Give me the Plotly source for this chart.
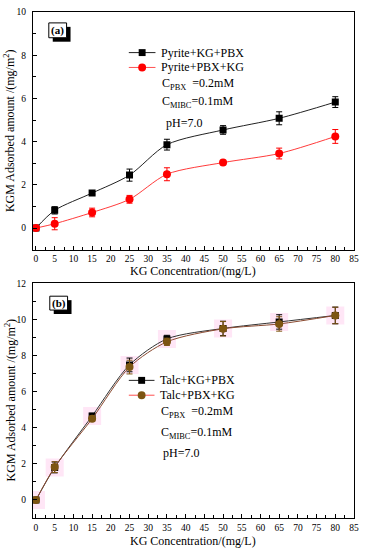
import plotly.graph_objects as go

# ---------------- data ----------------
kg_conc = [0, 5, 15, 25, 35, 50, 65, 80]

pyrite_kg_pbx = [0, 0.82, 1.62, 2.45, 3.86, 4.54, 5.08, 5.83]
pyrite_kg_pbx_err = [0.05, 0.17, 0.06, 0.28, 0.25, 0.2, 0.3, 0.25]
pyrite_pbx_kg = [0, 0.2, 0.72, 1.33, 2.49, 3.03, 3.45, 4.24]
pyrite_pbx_kg_err = [0.05, 0.28, 0.2, 0.18, 0.3, 0.1, 0.25, 0.32]

talc_kg_pbx = [0, 1.8, 4.65, 7.48, 8.92, 9.5, 9.86, 10.22]
talc_kg_pbx_err = [0.05, 0.3, 0.15, 0.38, 0.2, 0.4, 0.4, 0.46]
talc_pbx_kg = [0, 1.82, 4.5, 7.36, 8.76, 9.48, 9.75, 10.22]
talc_pbx_kg_err = [0.05, 0.3, 0.15, 0.38, 0.2, 0.4, 0.4, 0.46]

x_ticks = list(range(0, 90, 5))

# ---------------- layout helpers ----------------
W, H = 366, 550
ML, MR, MT, MB = 33, 8, 7, 32
PW, PH = W - ML - MR, H - MT - MB

def px(x):
    return (x - ML) / PW

def py(y):
    return (H - MB - y) / PH

FONT = "Liberation Serif"
BROWN = "#7d5512"

fig = go.Figure()

def add_series(x, y, err, color, line_color, symbol, size, xa, ya, halo=False):
    if halo:
        fig.add_trace(go.Scatter(
            x=x, y=y, mode="markers", xaxis=xa, yaxis=ya, showlegend=False,
            hoverinfo="skip",
            marker=dict(symbol="square", size=18, color="rgba(255,200,235,0.45)")))
    fig.add_trace(go.Scatter(
        x=x, y=y, mode="lines+markers", xaxis=xa, yaxis=ya, showlegend=False,
        line=dict(color=line_color, width=1, shape="spline", smoothing=0.8),
        marker=dict(symbol=symbol, size=size, color=color),
        error_y=dict(type="data", array=err, visible=True, color=color,
                     thickness=1, width=3)))

add_series(kg_conc, pyrite_kg_pbx, pyrite_kg_pbx_err, "#000000", "#222222",
           "square", 7, "x", "y")
add_series(kg_conc, pyrite_pbx_kg, pyrite_pbx_kg_err, "#ff0000", "#ff3b3b",
           "circle", 8, "x", "y")
add_series(kg_conc, talc_kg_pbx, talc_kg_pbx_err, "#000000", "#333333",
           "square", 7, "x2", "y2", halo=True)
add_series(kg_conc, talc_pbx_kg, talc_pbx_kg_err, BROWN, "#8a4a30",
           "circle", 8, "x2", "y2")

axis_common = dict(
    showline=True, linecolor="black", linewidth=1.3, mirror=True,
    ticks="inside", ticklen=4, tickwidth=1, tickcolor="black",
    showgrid=False, zeroline=False,
    tickfont=dict(family=FONT, size=9.5, color="black"),
)

xaxis_common = dict(axis_common, range=[-0.8, 85], tickmode="array",
                    tickvals=x_ticks, ticktext=[str(v) for v in x_ticks],
                    minor=dict(ticks="inside", ticklen=3, dtick=2.5,
                               tick0=0, tickcolor="black", showgrid=False))

fig.update_layout(
    width=W, height=H,
    margin=dict(l=ML, r=MR, t=MT, b=MB),
    paper_bgcolor="white", plot_bgcolor="white",
    showlegend=False,
    font=dict(family=FONT, color="black"),
    xaxis=dict(xaxis_common, anchor="y", domain=[0, 1]),
    yaxis=dict(axis_common, anchor="x", domain=[py(247), 1], range=[-1, 10],
               tickvals=[0, 2, 4, 6, 8, 10], ticklabelstandoff=4,
               minor=dict(ticks="inside", ticklen=3, dtick=1, tick0=0,
                          tickcolor="black", showgrid=False)),
    xaxis2=dict(xaxis_common, anchor="y2", domain=[0, 1]),
    yaxis2=dict(axis_common, anchor="x2", domain=[0, py(281)], range=[-1, 12],
                tickvals=[0, 2, 4, 6, 8, 10, 12], ticklabelstandoff=4,
                minor=dict(ticks="inside", ticklen=3, dtick=1, tick0=0,
                           tickcolor="black", showgrid=False)),
)

shapes = []
annotations = []

def text(x, y, s, size=12, anchor="left", angle=0):
    annotations.append(dict(
        x=px(x), y=py(y), xref="paper", yref="paper", text=s, showarrow=False,
        xanchor=anchor, yanchor="middle", textangle=angle,
        font=dict(family=FONT, size=size, color="black")))

# axis titles
for ty, cy in [(269, 127), (541, 399)]:
    text(195, ty, "KG Concentration/(mg/L)", anchor="center")
    text(10, cy, "KGM Adsorbed amount /(mg/m<sup>2</sup>)", anchor="center", angle=-90)

# panel labels with shadow boxes
for (x0, y0, x1, y1, lab) in [(49, 18, 67, 33, "(a)"), (50, 294, 68, 308, "(b)")]:
    shapes.append(dict(type="rect", xref="paper", yref="paper",
                       x0=px(x0 + 4), x1=px(x1 + 4), y0=py(y1 + 4), y1=py(y0 + 4),
                       fillcolor="black", line=dict(width=0)))
    shapes.append(dict(type="rect", xref="paper", yref="paper",
                       x0=px(x0), x1=px(x1), y0=py(y1), y1=py(y0),
                       fillcolor="white", line=dict(color="black", width=1)))
    text((x0 + x1) / 2, (y0 + y1) / 2 + 0.5, "<b>" + lab + "</b>", size=11, anchor="center")

# manual legends
def legend_row(xl0, xl1, y, line_color, marker_color, square, label):
    shapes.append(dict(type="line", xref="paper", yref="paper",
                       x0=px(xl0), x1=px(xl1), y0=py(y), y1=py(y),
                       line=dict(color=line_color, width=1)))
    xm = (xl0 + xl1) / 2
    r = 3.5 if square else 4
    shapes.append(dict(type="rect" if square else "circle", xref="paper", yref="paper",
                       x0=px(xm - r), x1=px(xm + r), y0=py(y + r), y1=py(y - r),
                       fillcolor=marker_color, line=dict(width=0)))
    text(xl1 + 4, y, label)

legend_row(130, 157, 48, "#222222", "#000000", True, "Pyrite+KG+PBX")
legend_row(130, 157, 63, "#ff5050", "#ff0000", False, "Pyrite+PBX+KG")
text(162, 80, "C<sub>PBX</sub>  =0.2mM")
text(162, 98, "C<sub>MIBC</sub>=0.1mM")
text(166, 119, "pH=7.0")

legend_row(130, 156, 379, "#222222", "#000000", True, "Talc+KG+PBX")
legend_row(130, 156, 394, "#ff5050", BROWN, False, "Talc+PBX+KG")
text(161, 411, "C<sub>PBX</sub>  =0.2mM")
text(161, 432, "C<sub>MIBC</sub>=0.1mM")
text(163, 452, "pH=7.0")

fig.update_layout(shapes=shapes, annotations=annotations)

fig.write_html("out.html", config={"displayModeBar": False},
               post_script="document.body.style.margin='0px';")
